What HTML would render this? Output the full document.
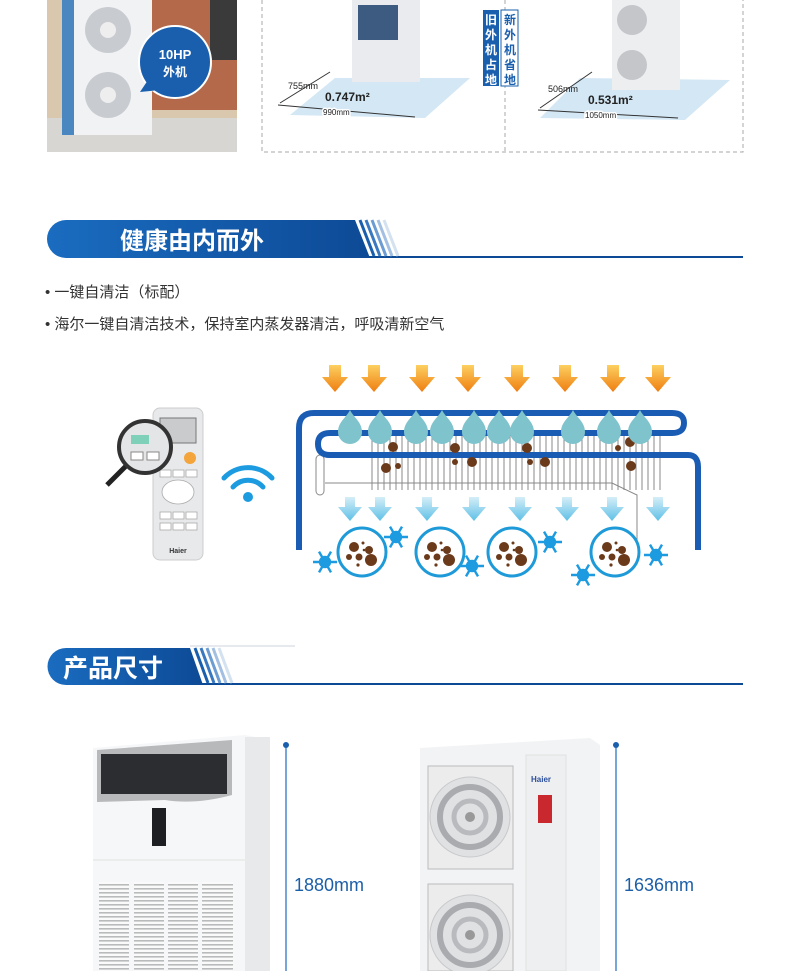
<!DOCTYPE html>
<html><head><meta charset="utf-8"><style>
body{margin:0;width:790px;height:971px;background:#fff;overflow:hidden;position:relative;font-family:"Liberation Sans","Noto Sans CJK SC",sans-serif}
.a{position:absolute}
</style></head><body>
<svg class="a" style="left:0;top:0" width="790" height="971" xmlns="http://www.w3.org/2000/svg">
<defs>
<linearGradient id="pill" x1="0" x2="1"><stop offset="0" stop-color="#1a6cc0"/><stop offset="1" stop-color="#0d4a96"/></linearGradient>
<linearGradient id="og" x1="0" y1="0" x2="0" y2="1"><stop offset="0" stop-color="#fcd060"/><stop offset="1" stop-color="#ef7d10"/></linearGradient>
<linearGradient id="bg" x1="0" y1="0" x2="0" y2="1"><stop offset="0" stop-color="#d6eef8"/><stop offset="1" stop-color="#5ec0e6"/></linearGradient>
<pattern id="grl" width="6" height="4" patternUnits="userSpaceOnUse"><rect width="6" height="4" fill="#fafafa"/><rect width="6" height="1.6" fill="#b9babc"/></pattern>
<g id="oa"><path d="M-6,0 L6,0 L6,12 L13,12 L0,27 L-13,12 L-6,12Z" fill="url(#og)"/></g>
<g id="ba"><path d="M-5,0 L5,0 L5,10 L12,10 L0,24 L-12,10 L-5,10Z" fill="url(#bg)"/></g>
<g id="dr"><path d="M0,-16 C4,-8 12,-4 12,6 A12,12 0 0 1 -12,6 C-12,-4 -4,-8 0,-16Z" fill="#7fc3cc"/></g>
<g id="sf" stroke="#1c9be0" stroke-width="2.4"><line x1="-12" y1="0" x2="12" y2="0"/><line x1="-6" y1="-10.4" x2="6" y2="10.4"/><line x1="-6" y1="10.4" x2="6" y2="-10.4"/><circle r="5" fill="#1c9be0"/></g>
<g id="cir"><circle r="24" fill="#fff" stroke="#1e9ad8" stroke-width="3"/><circle cx="-8" cy="-5" r="5" fill="#6b3a1b"/><circle cx="7" cy="-2" r="4" fill="#6b3a1b"/><circle cx="9" cy="8" r="6" fill="#6b3a1b"/><circle cx="-3" cy="5" r="3.5" fill="#6b3a1b"/><circle cx="-13" cy="5" r="3" fill="#6b3a1b"/><circle cx="1" cy="-9" r="1.5" fill="#6b3a1b"/><circle cx="2" cy="-2" r="1.3" fill="#6b3a1b"/><circle cx="-4" cy="13" r="1.6" fill="#6b3a1b"/></g>
<g id="fan"><circle r="40" fill="#e0e1e3" stroke="#c8c9cb"/><circle r="30" fill="none" stroke="#a9abae" stroke-width="6"/><circle r="16" fill="none" stroke="#b8babd" stroke-width="5"/><circle r="5" fill="#999"/></g>
</defs>
<!-- top photo -->
<path d="M47,0 H237 V146 Q237,152 231,152 H53 Q47,152 47,146Z" fill="#d9c8ae"/>
<rect x="150" y="0" width="87" height="110" fill="#b46a4a"/>
<rect x="210" y="0" width="27" height="60" fill="#3a3a3a"/>
<rect x="47" y="118" width="190" height="34" fill="#d8d6d2"/>
<rect x="62" y="0" width="90" height="135" fill="#f1f2f4"/>
<rect x="62" y="0" width="12" height="135" fill="#4a86c0"/>
<circle cx="108" cy="30" r="23" fill="#c8cbd0"/><circle cx="108" cy="30" r="8" fill="#eee"/>
<circle cx="108" cy="95" r="23" fill="#c8cbd0"/><circle cx="108" cy="95" r="8" fill="#eee"/>
<circle cx="175" cy="62" r="36" fill="#1a5fae" stroke="#fff" stroke-width="2"/>
<path d="M148,80 L140,92 L160,90Z" fill="#1a5fae"/>
<text x="175" y="59" font-size="13" font-weight="bold" fill="#fff" text-anchor="middle">10HP</text>
<text x="175" y="76" font-size="12" font-weight="bold" fill="#fff" text-anchor="middle">外机</text>
<!-- dashed box -->
<path d="M262,0 V152 H743 V0" fill="none" stroke="#aaa" stroke-dasharray="4,3"/>
<line x1="505" y1="0" x2="505" y2="152" stroke="#aaa" stroke-dasharray="4,3"/>
<polygon points="290,115 335,78 470,78 425,118" fill="#d3e7f4"/>
<rect x="352" y="0" width="68" height="82" fill="#e9ebee"/><rect x="358" y="5" width="40" height="35" fill="#3d5a80"/>
<line x1="280" y1="103" x2="330" y2="72" stroke="#333"/><line x1="278" y1="105" x2="415" y2="117" stroke="#333"/>
<text x="288" y="89" font-size="9" fill="#222">755mm</text>
<text x="325" y="101" font-size="12" font-weight="bold" fill="#222">0.747m²</text>
<text x="323" y="115" font-size="8" fill="#222" stroke="#fff" stroke-width="3" paint-order="stroke">990mm</text>
<rect x="483" y="10" width="16" height="76" fill="#1a5fae"/>
<rect x="501" y="10" width="17" height="76" fill="#fff" stroke="#1a5fae"/>
<text font-size="12" font-weight="bold" fill="#fff" text-anchor="middle"><tspan x="491" y="24">旧</tspan><tspan x="491" y="39">外</tspan><tspan x="491" y="54">机</tspan><tspan x="491" y="69">占</tspan><tspan x="491" y="84">地</tspan></text>
<text font-size="12" font-weight="bold" fill="#1a5fae" text-anchor="middle"><tspan x="510" y="24">新</tspan><tspan x="510" y="39">外</tspan><tspan x="510" y="54">机</tspan><tspan x="510" y="69">省</tspan><tspan x="510" y="84">地</tspan></text>
<polygon points="540,118 580,78 730,80 685,120" fill="#d3e7f4"/>
<rect x="612" y="0" width="68" height="90" fill="#eceef0"/><circle cx="632" cy="20" r="15" fill="#c4c6c9"/><circle cx="632" cy="65" r="15" fill="#c4c6c9"/>
<line x1="540" y1="108" x2="592" y2="72" stroke="#333"/><line x1="538" y1="110" x2="678" y2="118" stroke="#333"/>
<text x="548" y="92" font-size="9" fill="#222">506mm</text>
<text x="588" y="104" font-size="12" font-weight="bold" fill="#222">0.531m²</text>
<text x="585" y="118" font-size="8" fill="#222" stroke="#fff" stroke-width="3" paint-order="stroke">1050mm</text>
<!-- header 1 -->
<line x1="350" y1="257" x2="743" y2="257" stroke="#0d4a96" stroke-width="2"/>
<path d="M66,220 H355 L370,258 H66 A19,19 0 0 1 66,220Z" fill="url(#pill)"/>
<g stroke-width="3"><line x1="360" y1="220" x2="374" y2="256" stroke="#1a5fae"/><line x1="366" y1="220" x2="380" y2="256" stroke="#3a78c0"/><line x1="372" y1="220" x2="386" y2="256" stroke="#6c9cd2"/><line x1="378" y1="220" x2="392" y2="256" stroke="#a3c0e2"/><line x1="384" y1="220" x2="398" y2="256" stroke="#d4e1f0"/></g>
<text x="120" y="249" font-size="24" font-weight="bold" fill="#fff">健康由内而外</text>
<text x="45" y="297" font-size="15" fill="#333">• 一键自清洁（标配）</text>
<text x="45" y="329" font-size="15" fill="#333">• 海尔一键自清洁技术，保持室内蒸发器清洁，呼吸清新空气</text>
<!-- remote -->
<rect x="153" y="408" width="50" height="152" rx="7" fill="#e8e9eb" stroke="#ccc"/>
<rect x="160" y="418" width="36" height="25" fill="#c9cbcc" stroke="#777"/>
<circle cx="190" cy="458" r="6" fill="#f3a43a"/>
<g fill="#fff" stroke="#aaa" stroke-width=".8"><rect x="160" y="470" width="11" height="7"/><rect x="173" y="470" width="11" height="7"/><rect x="186" y="470" width="11" height="7"/><ellipse cx="178" cy="492" rx="16" ry="12"/><rect x="160" y="512" width="11" height="7"/><rect x="173" y="512" width="11" height="7"/><rect x="186" y="512" width="11" height="7"/><rect x="160" y="523" width="11" height="7"/><rect x="173" y="523" width="11" height="7"/><rect x="186" y="523" width="11" height="7"/></g>
<text x="178" y="553" font-size="7" font-weight="bold" fill="#333" text-anchor="middle">Haier</text>
<line x1="127" y1="465" x2="107" y2="485" stroke="#222" stroke-width="5"/>
<circle cx="145" cy="447" r="26" fill="#e4e5e6" stroke="#333" stroke-width="4"/>
<rect x="131" y="435" width="18" height="9" fill="#7fd0b8"/><rect x="131" y="452" width="12" height="8" fill="#fff" stroke="#888"/><rect x="147" y="452" width="12" height="8" fill="#fff" stroke="#888"/>
<g fill="none" stroke="#1c9be0" stroke-width="5" stroke-linecap="round"><path d="M224,478 A33,33 0 0 1 272,478"/><path d="M233,487 A20,20 0 0 1 263,487"/></g>
<circle cx="248" cy="497" r="5" fill="#1c9be0"/>
<!-- evaporator -->
<g stroke="#888" stroke-width="1">
<line x1="372" y1="432" x2="372" y2="490"/><line x1="378" y1="432" x2="378" y2="490"/><line x1="384" y1="432" x2="384" y2="490"/><line x1="390" y1="432" x2="390" y2="490"/><line x1="396" y1="432" x2="396" y2="490"/><line x1="402" y1="432" x2="402" y2="490"/><line x1="408" y1="432" x2="408" y2="490"/><line x1="414" y1="432" x2="414" y2="490"/><line x1="420" y1="432" x2="420" y2="490"/><line x1="426" y1="432" x2="426" y2="490"/><line x1="432" y1="432" x2="432" y2="490"/><line x1="438" y1="432" x2="438" y2="490"/><line x1="444" y1="432" x2="444" y2="490"/><line x1="450" y1="432" x2="450" y2="490"/><line x1="456" y1="432" x2="456" y2="490"/><line x1="462" y1="432" x2="462" y2="490"/><line x1="468" y1="432" x2="468" y2="490"/><line x1="474" y1="432" x2="474" y2="490"/><line x1="480" y1="432" x2="480" y2="490"/><line x1="486" y1="432" x2="486" y2="490"/><line x1="492" y1="432" x2="492" y2="490"/><line x1="498" y1="432" x2="498" y2="490"/><line x1="504" y1="432" x2="504" y2="490"/><line x1="510" y1="432" x2="510" y2="490"/><line x1="516" y1="432" x2="516" y2="490"/><line x1="522" y1="432" x2="522" y2="490"/><line x1="528" y1="432" x2="528" y2="490"/><line x1="534" y1="432" x2="534" y2="490"/><line x1="540" y1="432" x2="540" y2="490"/><line x1="546" y1="432" x2="546" y2="490"/><line x1="552" y1="432" x2="552" y2="490"/><line x1="558" y1="432" x2="558" y2="490"/><line x1="564" y1="432" x2="564" y2="490"/><line x1="570" y1="432" x2="570" y2="490"/><line x1="576" y1="432" x2="576" y2="490"/><line x1="582" y1="432" x2="582" y2="490"/><line x1="588" y1="432" x2="588" y2="490"/><line x1="594" y1="432" x2="594" y2="490"/><line x1="600" y1="432" x2="600" y2="490"/><line x1="606" y1="432" x2="606" y2="490"/><line x1="612" y1="432" x2="612" y2="490"/><line x1="618" y1="432" x2="618" y2="490"/><line x1="624" y1="432" x2="624" y2="490"/><line x1="630" y1="432" x2="630" y2="490"/><line x1="636" y1="432" x2="636" y2="490"/><line x1="642" y1="432" x2="642" y2="490"/><line x1="648" y1="432" x2="648" y2="490"/><line x1="654" y1="432" x2="654" y2="490"/><line x1="660" y1="432" x2="660" y2="490"/>
<path d="M325,483 H612 L637,495 V540" fill="none"/>
<rect x="316" y="455" width="8" height="40" rx="4" fill="none"/>
</g>
<g fill="none" stroke="#1a5cb3" stroke-width="6">
<path d="M299,550 V428 Q299,413 314,413 H672 Q684,413 684,423 Q684,433 672,433 H330 Q318,433 318,444 Q318,455 330,455 H688 Q698,455 698,467 V550"/>
</g>
<g fill="#6b3a1b"><circle cx="393" cy="447" r="5"/><circle cx="386" cy="468" r="5"/><circle cx="398" cy="466" r="3"/><circle cx="455" cy="448" r="5"/><circle cx="472" cy="462" r="5"/><circle cx="455" cy="462" r="3"/><circle cx="527" cy="448" r="5"/><circle cx="545" cy="462" r="5"/><circle cx="530" cy="462" r="3"/><circle cx="630" cy="442" r="5"/><circle cx="631" cy="466" r="5"/><circle cx="618" cy="448" r="3"/></g>
<use href="#dr" x="350" y="426"/><use href="#dr" x="380" y="426"/><use href="#dr" x="416" y="426"/><use href="#dr" x="442" y="426"/><use href="#dr" x="474" y="426"/><use href="#dr" x="499" y="426"/><use href="#dr" x="522" y="426"/><use href="#dr" x="573" y="426"/><use href="#dr" x="609" y="426"/><use href="#dr" x="640" y="426"/>
<use href="#oa" x="335" y="365"/><use href="#oa" x="374" y="365"/><use href="#oa" x="422" y="365"/><use href="#oa" x="468" y="365"/><use href="#oa" x="517" y="365"/><use href="#oa" x="565" y="365"/><use href="#oa" x="613" y="365"/><use href="#oa" x="658" y="365"/>
<use href="#ba" x="350" y="497"/><use href="#ba" x="380" y="497"/><use href="#ba" x="427" y="497"/><use href="#ba" x="474" y="497"/><use href="#ba" x="520" y="497"/><use href="#ba" x="567" y="497"/><use href="#ba" x="612" y="497"/><use href="#ba" x="658" y="497"/>
<use href="#cir" x="362" y="552"/><use href="#cir" x="440" y="552"/><use href="#cir" x="512" y="552"/><use href="#cir" x="615" y="552"/>
<use href="#sf" x="325" y="562"/><use href="#sf" x="396" y="537"/><use href="#sf" x="472" y="566"/><use href="#sf" x="550" y="542"/><use href="#sf" x="583" y="575"/><use href="#sf" x="656" y="555"/>
<!-- header 2 -->
<line x1="188" y1="684" x2="743" y2="684" stroke="#0d4a96" stroke-width="2"/>
<line x1="190" y1="646" x2="295" y2="646" stroke="#e6e9ee" stroke-width="2"/>
<path d="M66,648 H190 L203,685 H66 A18.5,18.5 0 0 1 66,648Z" fill="url(#pill)"/>
<g stroke-width="3"><line x1="195" y1="648" x2="208" y2="683" stroke="#1a5fae"/><line x1="201" y1="648" x2="214" y2="683" stroke="#3a78c0"/><line x1="207" y1="648" x2="220" y2="683" stroke="#6c9cd2"/><line x1="213" y1="648" x2="226" y2="683" stroke="#a3c0e2"/><line x1="219" y1="648" x2="232" y2="683" stroke="#d4e1f0"/></g>
<text x="63" y="677" font-size="25" font-weight="bold" fill="#fff">产品尺寸</text>
<!-- indoor unit -->
<polygon points="93,748 245,735 270,740 270,971 93,971" fill="#f6f7f8"/>
<rect x="245" y="737" width="25" height="234" fill="#e8e9eb"/>
<path d="M97,750 L232,740 V795 Q195,805 165,800 L97,802Z" fill="#b8b9bb"/>
<rect x="101" y="754" width="126" height="40" fill="#2b2d30"/>
<rect x="152" y="808" width="14" height="38" fill="#1e1f22"/>
<line x1="93" y1="860" x2="245" y2="860" stroke="#e0e0e0"/>
<g fill="url(#grl)"><rect x="99" y="882" width="30" height="89"/><rect x="134" y="882" width="30" height="89"/><rect x="168" y="882" width="30" height="89"/><rect x="202" y="882" width="31" height="89"/></g>
<line x1="286" y1="745" x2="286" y2="971" stroke="#1a6cc0" stroke-width="1.2"/><circle cx="286" cy="745" r="3" fill="#1a5fae"/>
<text x="294" y="891" font-size="18" fill="#1b5fa8">1880mm</text>
<!-- outdoor unit -->
<polygon points="420,748 590,738 600,745 600,971 420,971" fill="#f2f3f4"/>
<rect x="428" y="766" width="85" height="103" fill="#ececed" stroke="#bbb"/><use href="#fan" x="470" y="817"/>
<rect x="428" y="884" width="85" height="87" fill="#ececed" stroke="#bbb"/><use href="#fan" x="470" y="935"/>
<rect x="526" y="755" width="40" height="216" fill="#eeeff0" stroke="#e0e0e0"/>
<text x="531" y="782" font-size="8" font-weight="bold" fill="#2a4d9a">Haier</text>
<rect x="538" y="795" width="14" height="28" fill="#c9292e"/>
<line x1="616" y1="745" x2="616" y2="971" stroke="#1a6cc0" stroke-width="1.2"/><circle cx="616" cy="745" r="3" fill="#1a5fae"/>
<text x="624" y="891" font-size="18" fill="#1b5fa8">1636mm</text>
</svg>
</body></html>
